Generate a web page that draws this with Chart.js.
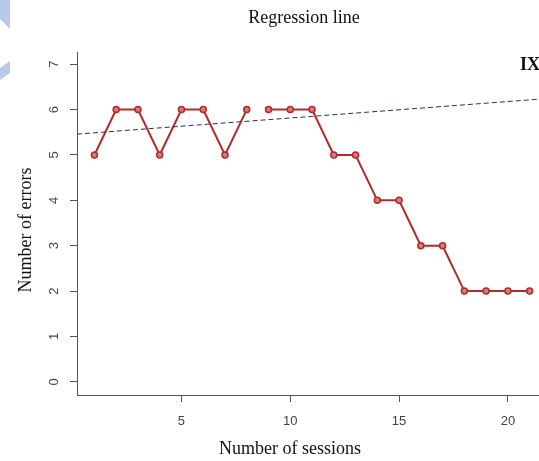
<!DOCTYPE html>
<html>
<head>
<meta charset="utf-8">
<title>Regression line</title>
<script src="https://cdn.jsdelivr.net/npm/chart.js@4.4.1/dist/chart.umd.min.js"></script>
<style>
    html, body { margin: 0; padding: 0; background: #fff; overflow: hidden; }
    #wrap { width: 539px; height: 461px; position: relative; }
</style>
</head>
<body>
<div id="wrap"><canvas id="chart" width="539" height="461"></canvas></div>
<script>
// Data
const sessions = [1, 2, 3, 4, 5, 6, 7, 8, 9, 10, 11, 12, 13, 14, 15, 16, 17, 18, 19, 20, 21];
const errors = [5, 6, 6, 5, 6, 6, 5, 6, 6, 6, 6, 5, 5, 4, 4, 3, 3, 2, 2, 2, 2];
const gapAfter = [8];                 // no segment between session 8 and 9

// Dashed regression line, two ends as drawn
const regX = [0.2, 21.43];
const regY = [5.46, 6.23];

// Axis ranges and ticks
const xRange = [0.2, 21.43];
const yRange = [-0.29, 7.27];
const xTicks = [5, 10, 15, 20];
const yTicks = [0, 1, 2, 3, 4, 5, 6, 7];

const chartTitle = 'Regression line';
const panelTag = 'IX';
const xTitle = 'Number of sessions';
const yTitle = 'Number of errors';

const lineColor = '#b22a2a';
const axisColor = '#555';
const serif = '"Liberation Serif", "Times New Roman", serif';

// Texts drawn around the plot
const textPlugin = {
    id: 'texts',
    beforeDraw(chart) {
        const ctx = chart.ctx;
        // faint blue shapes on the left edge
        ctx.save();
        ctx.fillStyle = '#b9c9e9';
        ctx.beginPath();
        ctx.moveTo(0, 0); ctx.lineTo(10, 0); ctx.lineTo(10, 29); ctx.lineTo(0, 19);
        ctx.closePath(); ctx.fill();
        ctx.beginPath();
        ctx.moveTo(0, 68); ctx.lineTo(10, 61); ctx.lineTo(10, 73); ctx.lineTo(0, 80);
        ctx.closePath(); ctx.fill();
        ctx.restore();
    },
    afterDraw(chart) {
        const ctx = chart.ctx;
        ctx.save();
        ctx.fillStyle = '#111';
        ctx.textBaseline = 'alphabetic';

        ctx.font = '18px ' + serif;
        ctx.textAlign = 'center';
        ctx.fillText(chartTitle, 304, 23);

        ctx.font = 'bold 18px ' + serif;
        ctx.textAlign = 'left';
        ctx.fillText(panelTag, 520, 70);

        ctx.font = '18px ' + serif;
        ctx.textAlign = 'center';
        ctx.fillText(xTitle, 290, 454);

        ctx.translate(31, 230);
        ctx.rotate(-Math.PI / 2);
        ctx.fillText(yTitle, 0, 0);
        ctx.restore();
    }
};

function noPadding(scale) {
    scale.paddingLeft = 0;
    scale.paddingRight = 0;
    scale.paddingTop = 0;
    scale.paddingBottom = 0;
}

function initChart() {
    const ctx = document.getElementById('chart').getContext('2d');

    new Chart(ctx, {
        type: 'line',
        data: {
            datasets: [{
                label: 'Regression',
                data: regX.map((x, i) => ({ x: x, y: regY[i] })),
                borderColor: '#26305a',
                borderWidth: 1,
                borderDash: [5, 3],
                pointRadius: 0,
                fill: false
            }, {
                label: 'Errors',
                data: sessions.map((s, i) => ({ x: s, y: errors[i] })),
                borderColor: lineColor,
                borderWidth: 2,
                pointRadius: 3,
                pointBorderWidth: 1.5,
                pointBorderColor: lineColor,
                pointBackgroundColor: '#e07878',
                tension: 0,
                fill: false,
                segment: {
                    borderColor: c => gapAfter.includes(c.p0.parsed.x) ? 'rgba(0,0,0,0)' : lineColor
                }
            }]
        },
        options: {
            responsive: false,
            animation: false,
            events: [],
            layout: { autoPadding: false, padding: { top: 52, right: 0, left: 0, bottom: 0 } },
            plugins: {
                legend: { display: false },
                title: { display: false },
                tooltip: { enabled: false }
            },
            scales: {
                x: {
                    type: 'linear',
                    min: xRange[0],
                    max: xRange[1],
                    afterBuildTicks: scale => { scale.ticks = xTicks.map(v => ({ value: v })); },
                    afterFit: scale => { scale.height = 66; noPadding(scale); },
                    grid: { drawOnChartArea: false, tickLength: 7, color: axisColor, tickWidth: 1 },
                    border: { display: true, color: axisColor, width: 1 },
                    ticks: {
                        padding: 12,
                        color: '#444',
                        font: { family: '"Liberation Sans", Arial, sans-serif', size: 13 },
                        maxRotation: 0
                    }
                },
                y: {
                    type: 'linear',
                    min: yRange[0],
                    max: yRange[1],
                    afterBuildTicks: scale => { scale.ticks = yTicks.map(v => ({ value: v })); },
                    afterFit: scale => { scale.width = 77; noPadding(scale); },
                    grid: { drawOnChartArea: false, tickLength: 7, color: axisColor, tickWidth: 1 },
                    border: { display: true, color: axisColor, width: 1 },
                    ticks: {
                        padding: 12,
                        color: '#444',
                        crossAlign: 'center',
                        minRotation: 90,
                        maxRotation: 90,
                        font: { family: '"Liberation Sans", Arial, sans-serif', size: 13 }
                    }
                }
            }
        },
        plugins: [textPlugin]
    });
}

document.addEventListener('DOMContentLoaded', initChart);
</script>
</body>
</html>
